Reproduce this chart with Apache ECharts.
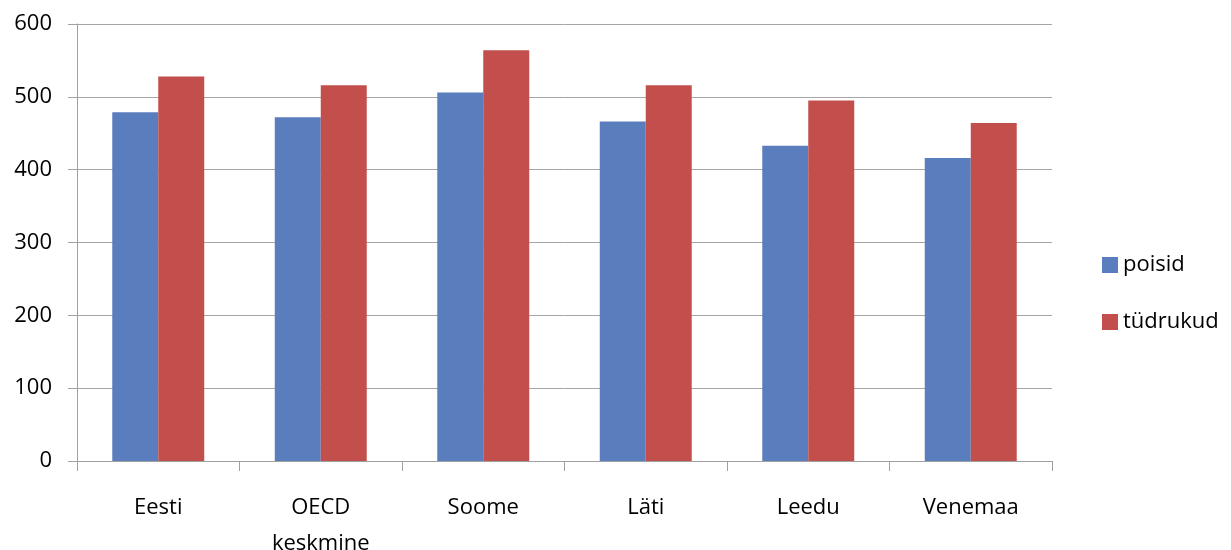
<!DOCTYPE html>
<html>
<head>
<meta charset="utf-8">
<script src="https://cdn.jsdelivr.net/npm/echarts@6/dist/echarts.min.js"></script>
<style>
html,body{margin:0;padding:0;background:#fff;overflow:hidden;}
#c{width:1231px;height:550px;}
</style>
</head>
<body>
<div id="c"></div>
<script>
var categories = ["Eesti", "OECD keskmine", "Soome", "Läti", "Leedu", "Venemaa"];
var seriesNames = ["poisid", "tüdrukud"];
var poisid = [479, 472, 506, 466, 433, 416];
var tudrukud = [528, 516, 564, 516, 495, 464];
var yTicks = [0, 100, 200, 300, 400, 500, 600];

var font = "'Open Sans', 'Liberation Sans', sans-serif";
var chart = echarts.init(document.getElementById('c'), null, {renderer: 'canvas'});
chart.setOption({
  animation: false,
  backgroundColor: '#ffffff',
  textStyle: {fontFamily: font},
  grid: {left: 77, top: 24, right: 179, bottom: 89, containLabel: false, outerBoundsMode: 'none'},
  legend: {
    orient: 'vertical',
    left: 1097,
    top: 249,
    itemWidth: 16,
    itemHeight: 16,
    itemGap: 35,
    icon: 'rect',
    textStyle: {fontFamily: font, fontSize: 22, color: '#000'},
    data: seriesNames
  },
  xAxis: {
    type: 'category',
    data: categories,
    axisLine: {show: true, lineStyle: {color: '#a0a0a0', width: 1}},
    axisTick: {show: true, length: 10, lineStyle: {color: '#a0a0a0'}},
    axisLabel: {
      margin: 29,
      fontFamily: font,
      fontSize: 22,
      color: '#000',
      lineHeight: 36,
      formatter: function (v) { return v.replace(' ', '\n'); }
    }
  },
  yAxis: {
    type: 'value',
    min: yTicks[0],
    max: yTicks[yTicks.length - 1],
    interval: 100,
    axisLine: {show: true, lineStyle: {color: '#a0a0a0', width: 1}},
    axisTick: {show: true, length: 9, lineStyle: {color: '#a0a0a0'}},
    splitLine: {show: true, lineStyle: {color: '#a6a6a6', width: 1}},
    axisLabel: {margin: 25, fontFamily: font, fontSize: 22, color: '#000'}
  },
  series: [
    {name: seriesNames[0], type: 'bar', data: poisid, barWidth: '28.3%', barGap: '0%',
     itemStyle: {color: '#5A7DBD'}},
    {name: seriesNames[1], type: 'bar', data: tudrukud, barWidth: '28.3%', barGap: '0%',
     itemStyle: {color: '#C24F4B'}}
  ]
});
</script>
</body>
</html>
